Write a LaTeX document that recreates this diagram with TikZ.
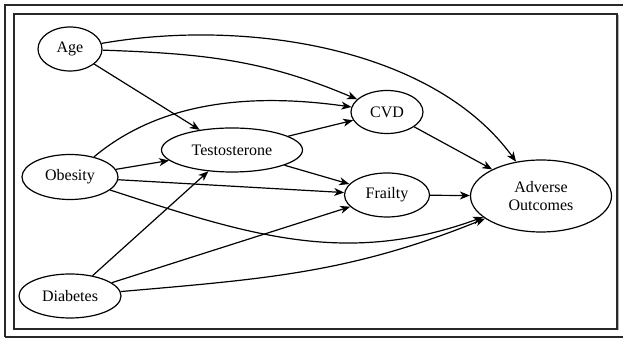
\documentclass[tikz,border=0pt]{standalone}
\usepackage{fontspec}
\setmainfont{Liberation Serif}
\usetikzlibrary{arrows.meta,shapes.geometric}
\definecolor{framegray}{RGB}{40,40,40}

\begin{document}
\begin{tikzpicture}[
  x=1pt, y=1pt,
  var/.style={
    ellipse,
    draw,
    line width=1.2pt,
    inner sep=0pt,
    align=center,
    font=\fontsize{16}{18}\selectfont
  },
  arrow/.style={-{Stealth[length=10pt,width=8pt,inset=3pt]},line width=1.2pt}
]
\useasboundingbox (0,0) rectangle (623,339);
% frames
\draw[framegray,line width=1.4pt] (5,2) -- (623,2);
\draw[framegray,line width=1.4pt] (5,2) -- (5,334) -- (623,334);
\fill[gray!60] (15.5,8.5) rectangle (618.5,323.5);
\draw[framegray,line width=1.3pt,fill=white] (14,10) rectangle (617,325);

\node[var,minimum width=64pt,minimum height=44pt] (age) at (70,290) {Age};
\node[var,minimum width=96pt,minimum height=45pt] (obe) at (70,162) {Obesity};
\node[var,minimum width=102pt,minimum height=44pt] (dia) at (70,43) {Diabetes};
\node[var,minimum width=141pt,minimum height=44pt] (tes) at (232,189) {Testosterone};
\node[var,minimum width=72pt,minimum height=43pt] (cvd) at (387,227) {CVD};
\node[var,minimum width=85pt,minimum height=44pt] (fra) at (387,144) {Frailty};
\node[var,minimum width=141pt,minimum height=72pt] (adv) at (541,143) {Adverse\\Outcomes};

\draw[arrow] (age) to[out=10,in=126,looseness=0.85] (adv);
\draw[arrow] (age) to[out=-2,in=157] (cvd);
\draw[arrow] (age) -- (tes);
\draw[arrow] (obe) to[out=40,in=172,looseness=0.9] (cvd);
\draw[arrow] (obe) -- (tes);
\draw[arrow] (obe) -- (fra);
\draw[arrow] (obe) to[out=-18,in=200] (adv);
\draw[arrow] (dia) -- (tes);
\draw[arrow] (dia) -- (fra);
\draw[arrow] (dia) to[out=5,in=202] (adv);
\draw[arrow] (tes) -- (cvd);
\draw[arrow] (tes) -- (fra);
\draw[arrow] (cvd) -- (adv);
\draw[arrow] (fra) -- (adv);
\end{tikzpicture}
\end{document}
